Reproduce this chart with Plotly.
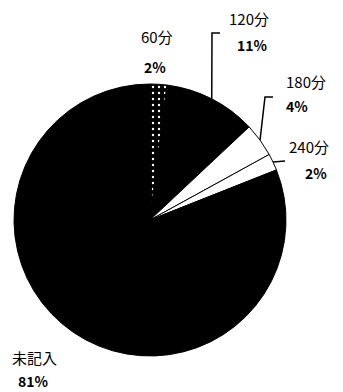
import math
import plotly.graph_objects as go

# ---- data ----
labels = ["60分", "120分", "180分", "240分", "未記入"]
values = [2, 11, 4, 2, 81]
pct_labels = ["2%", "11%", "4%", "2%", "81%"]

# ---- styles ----
slice_colors = ["black", "black", "white", "white", "black"]
pattern_shapes = [".", "", "", "", ""]
pattern_fg = ["white", "black", "black", "black", "black"]
pattern_bg = ["black", "black", "white", "white", "black"]

W, H = 343, 392
cx, cy, R = 150, 220, 136  # pixel geometry of the pie


def px(x):
    return x / W


def py(y):
    return 1 - y / H


fig = go.Figure(
    go.Pie(
        labels=labels,
        values=values,
        sort=False,
        direction="clockwise",
        rotation=0,
        textinfo="none",
        hoverinfo="label+percent",
        showlegend=False,
        marker=dict(
            colors=slice_colors,
            line=dict(color="black", width=1),
            pattern=dict(shape=pattern_shapes, fgcolor=pattern_fg,
                         bgcolor=pattern_bg, size=6, solidity=0.12),
        ),
        domain=dict(x=[px(cx - R), px(cx + R)], y=[py(cy + R), py(cy - R)]),
    )
)

# label positions (pixel centres): name line, percent line
label_pos = [
    ((157, 37), (155, 67)),
    ((249, 18), (252, 45)),
    ((306, 82), (297, 106)),
    ((309, 146), (316, 173)),
    ((34, 357), (33, 381)),
]
name_font = dict(family="Noto Sans CJK JP, sans-serif", size=15, color="black")
pct_font = dict(family="Noto Sans CJK JP, sans-serif", size=14, color="black")
annotations = []
for name, pct, (p1, p2) in zip(labels, pct_labels, label_pos):
    annotations.append(dict(x=px(p1[0]), y=py(p1[1]), xref="paper", yref="paper",
                            text=name, showarrow=False, font=name_font,
                            xanchor="center", yanchor="middle"))
    annotations.append(dict(x=px(p2[0]), y=py(p2[1]), xref="paper", yref="paper",
                            text=f"<b>{pct}</b>", showarrow=False, font=pct_font,
                            xanchor="center", yanchor="middle"))

# leader lines: start at the outer edge midpoint of each slice (computed from values)
total = sum(values)
cum = 0
mids = []
for v in values:
    mids.append((cum + v / 2) / total * 360)
    cum += v

leader_bends = {
    1: [(212, 33), (220, 33)],
    2: [(265, 97), (273, 97)],
    3: [(285, 161)],
}
shapes = []
for i, pts in leader_bends.items():
    th = math.radians(mids[i])
    sx, sy = cx + R * math.sin(th), cy - R * math.cos(th)
    path = f"M {px(sx)} {py(sy)}"
    for (x, y) in pts:
        path += f" L {px(x)} {py(y)}"
    shapes.append(dict(type="path", path=path, xref="paper", yref="paper",
                       line=dict(color="black", width=1.5)))

fig.update_layout(
    width=W, height=H,
    margin=dict(l=0, r=0, t=0, b=0),
    paper_bgcolor="white",
    plot_bgcolor="white",
    annotations=annotations,
    shapes=shapes,
)

fig.write_html("out.html")
